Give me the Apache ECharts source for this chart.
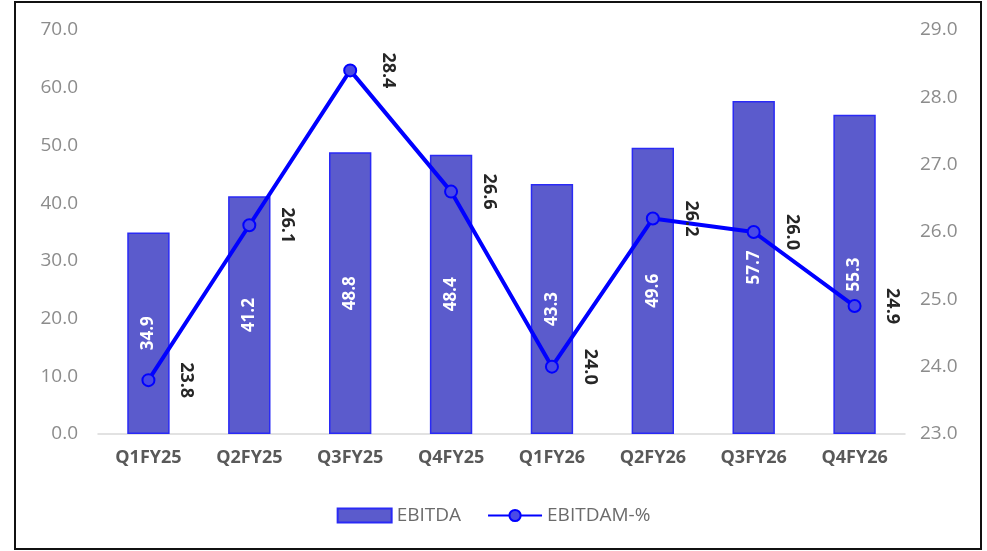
<!DOCTYPE html>
<html>
<head>
<meta charset="utf-8">
<script src="https://cdn.jsdelivr.net/npm/echarts@6/dist/echarts.min.js"></script>
<style>
  html, body { margin: 0; padding: 0; background: #fff; }
  #frame {
    position: absolute; left: 14px; top: 1px; width: 964px; height: 545px;
    border: 2px solid #111; box-sizing: content-box;
  }
  #chart { position: absolute; left: 0; top: 0; width: 987px; height: 551px; }
</style>
</head>
<body>
<div id="frame"></div>
<div id="chart"></div>
<script>
const quarters = ["Q1FY25", "Q2FY25", "Q3FY25", "Q4FY25", "Q1FY26", "Q2FY26", "Q3FY26", "Q4FY26"];
const ebitda = [34.9, 41.2, 48.8, 48.4, 43.3, 49.6, 57.7, 55.3];
const ebitdaMargin = [23.8, 26.1, 28.4, 26.6, 24.0, 26.2, 26.0, 24.9];

const chart = echarts.init(document.getElementById("chart"));

chart.setOption({
  animation: false,
  textStyle: { fontFamily: "Open Sans" },
  grid: { left: 98, right: 82, top: 30, bottom: 117 },
  legend: {
    bottom: 21,
    left: "center",
    itemGap: 26,
    itemWidth: 54,
    itemHeight: 14,
    textStyle: { color: "#6b6b6b", fontSize: 19 },
    data: [
      { name: "EBITDA", icon: "rect" },
      { name: "EBITDAM-%" }
    ]
  },
  xAxis: {
    type: "category",
    data: quarters,
    axisTick: { show: false },
    axisLine: { lineStyle: { color: "#d9d9d9", width: 1.5 } },
    axisLabel: { color: "#595959", fontSize: 18, fontWeight: "bold", margin: 15 }
  },
  yAxis: [
    {
      type: "value",
      min: 0,
      max: 70,
      interval: 10,
      splitLine: { show: false },
      axisLabel: {
        color: "#8c8c8c",
        fontSize: 19,
        margin: 20,
        formatter: (v) => v.toFixed(1)
      }
    },
    {
      type: "value",
      min: 23,
      max: 29,
      interval: 1,
      splitLine: { show: false },
      axisLabel: {
        color: "#8c8c8c",
        fontSize: 19,
        margin: 15,
        formatter: (v) => v.toFixed(1)
      }
    }
  ],
  series: [
    {
      name: "EBITDA",
      type: "bar",
      data: ebitda,
      barWidth: "42%",
      itemStyle: { color: "#5b5bcc", borderColor: "#2a2af5", borderWidth: 1.5 },
      label: {
        show: true,
        position: "inside",
        rotate: 90,
        color: "#ffffff",
        fontSize: 17,
        fontWeight: "bold",
        formatter: (p) => p.value.toFixed(1)
      }
    },
    {
      name: "EBITDAM-%",
      type: "line",
      yAxisIndex: 1,
      data: ebitdaMargin,
      symbol: "circle",
      symbolSize: 12,
      lineStyle: { color: "#0000ff", width: 4 },
      itemStyle: { color: "#4a4ae6", borderColor: "#0000ff", borderWidth: 2 },
      label: {
        show: true,
        position: "right",
        distance: 31,
        rotate: -90,
        align: "center",
        verticalAlign: "middle",
        color: "#262626",
        fontSize: 18,
        fontWeight: "bold",
        formatter: (p) => p.value.toFixed(1)
      }
    }
  ]
});
</script>
</body>
</html>
